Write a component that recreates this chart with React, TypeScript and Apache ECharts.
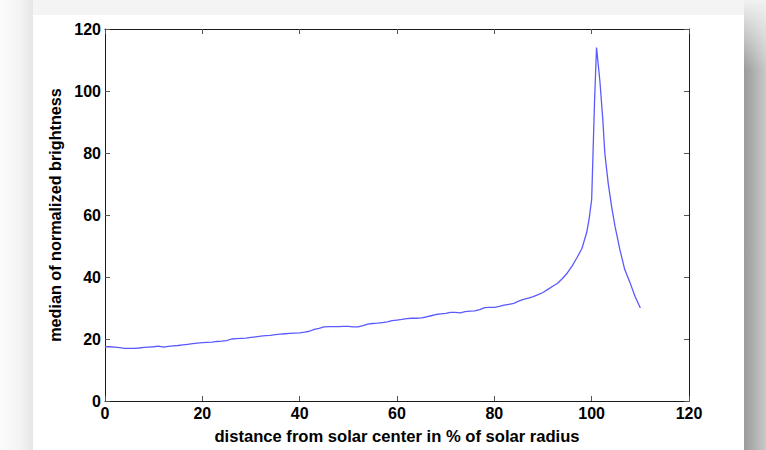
import React, { useEffect, useRef } from "react";
import * as echarts from "echarts";

const xValues: number[] = [
  0, 1, 2, 3, 4, 5, 6, 7, 8, 9, 10, 11, 12, 13, 14, 15, 16, 17, 18, 19,
  20, 21, 22, 23, 24, 25, 26, 27, 28, 29, 30, 31, 32, 33, 34, 35, 36, 37, 38, 39,
  40, 41, 42, 43, 44, 45, 46, 47, 48, 49, 50, 51, 52, 53, 54, 55, 56, 57, 58, 59,
  60, 61, 62, 63, 64, 65, 66, 67, 68, 69, 70, 71, 72, 73, 74, 75, 76, 77, 78, 79,
  80, 81, 82, 83, 84, 85, 86, 87, 88, 89, 90, 91, 92, 93, 94, 95, 96, 97, 98, 99,
  99.5, 100, 100.3, 100.6, 101, 101.7, 102.3, 102.7, 103.4, 104.1, 104.8, 105.8,
  106.8, 107.9, 108.9, 110,
];

const brightness: number[] = [
  17.5, 17.5, 17.4, 17.2, 17.0, 17.0, 17.0, 17.1, 17.3, 17.4, 17.5, 17.7, 17.4, 17.6, 17.8, 17.9, 18.1, 18.3, 18.5, 18.7,
  18.8, 18.9, 19.0, 19.2, 19.3, 19.5, 20.0, 20.1, 20.2, 20.3, 20.5, 20.7, 20.9, 21.1, 21.2, 21.4, 21.6, 21.7, 21.8, 21.9,
  22.0, 22.2, 22.5, 23.1, 23.4, 23.9, 24.0, 24.0, 24.0, 24.1, 24.1, 23.9, 23.9, 24.3, 24.8, 25.0, 25.1, 25.3, 25.5, 25.9,
  26.1, 26.3, 26.6, 26.7, 26.7, 26.8, 27.1, 27.5, 27.9, 28.1, 28.3, 28.6, 28.6, 28.4, 28.8, 29.0, 29.1, 29.5, 30.1, 30.2,
  30.2, 30.5, 30.9, 31.2, 31.5, 32.2, 32.8, 33.2, 33.7, 34.3, 35.0, 36.0, 37.0, 38.0, 39.5, 41.3, 43.6, 46.3, 49.2, 54.5,
  59.0, 65.0, 81.0, 97.0, 114.0, 103.0, 90.5, 80.0, 70.2, 62.7, 56.3, 48.8,
  42.4, 38.1, 33.8, 30.0,
];

const xTicks: number[] = [0, 20, 40, 60, 80, 100, 120];
const yTicks: number[] = [0, 20, 40, 60, 80, 100, 120];

const xTitle = "distance from solar center in % of solar radius";
const yTitle = "median of normalized brightness";

export default function App() {
  const ref = useRef<HTMLDivElement>(null);

  useEffect(() => {
    if (!ref.current) return;
    const chart = echarts.init(ref.current, null, { renderer: "svg" });
    const font = "'Liberation Sans', Arial, sans-serif";
    const axisLine = { show: true, onZero: false, lineStyle: { color: "#1a1a1a", width: 1 } };
    const tick = { show: true, inside: true, length: 5, lineStyle: { color: "#555", width: 1 } };
    const label = { fontFamily: font, fontSize: 16, fontWeight: "bold" as const, color: "#000" };
    const data = xValues.map((x, i) => [x, brightness[i]]);

    chart.setOption({
      animation: false,
      backgroundColor: "#f4f4f4",
      graphic: [
        {
          type: "rect",
          shape: { x: 0, y: 0, width: 33, height: 450 },
          style: {
            fill: new echarts.graphic.LinearGradient(0, 0, 1, 0, [
              { offset: 0, color: "#fbfbfb" },
              { offset: 0.6, color: "#f4f4f4" },
              { offset: 1, color: "#e6e6e6" },
            ]),
          },
          z: -10,
        },
        {
          type: "rect",
          shape: { x: 744, y: 0, width: 22, height: 450 },
          style: {
            fill: new echarts.graphic.LinearGradient(0, 0, 1, 0, [
              { offset: 0, color: "#9a9a9a" },
              { offset: 1, color: "#c9c9c9" },
            ]),
          },
          z: -10,
        },
        {
          type: "rect",
          shape: { x: 744, y: 0, width: 22, height: 70 },
          style: {
            fill: new echarts.graphic.LinearGradient(0, 0, 0, 1, [
              { offset: 0, color: "#f2f2f2" },
              { offset: 1, color: "rgba(242,242,242,0)" },
            ]),
          },
          z: -9,
        },
        {
          type: "rect",
          shape: { x: 33, y: 15, width: 711, height: 435 },
          style: { fill: "#ffffff" },
          z: -8,
        },
      ],
      grid: { left: 105, right: 77, top: 29, bottom: 48, containLabel: false },
      xAxis: [
        {
          type: "value",
          min: 0,
          max: 120,
          interval: 20,
          position: "bottom",
          axisLine,
          axisTick: tick,
          splitLine: { show: false },
          axisLabel: { ...label, margin: 4, formatter: (v: number) => (xTicks.includes(v) ? String(v) : "") },
          name: xTitle,
          nameLocation: "middle",
          nameGap: 27,
          nameTextStyle: { ...label, fontSize: 16.6 },
        },
        {
          type: "value",
          min: 0,
          max: 120,
          interval: 20,
          position: "top",
          axisLine,
          axisTick: tick,
          splitLine: { show: false },
          axisLabel: { show: false },
        },
      ],
      yAxis: [
        {
          type: "value",
          min: 0,
          max: 120,
          interval: 20,
          position: "left",
          axisLine,
          axisTick: tick,
          splitLine: { show: false },
          axisLabel: { ...label, margin: 4, formatter: (v: number) => (yTicks.includes(v) ? String(v) : "") },
          name: yTitle,
          nameLocation: "middle",
          nameGap: 42,
          nameTextStyle: { ...label, fontSize: 16.2 },
        },
        {
          type: "value",
          min: 0,
          max: 120,
          interval: 20,
          position: "right",
          axisLine,
          axisTick: tick,
          splitLine: { show: false },
          axisLabel: { show: false },
        },
      ],
      series: [
        {
          type: "line",
          data,
          showSymbol: false,
          symbol: "none",
          lineStyle: { color: "#5a5aff", width: 1.3 },
          xAxisIndex: 0,
          yAxisIndex: 0,
        },
      ],
    });
    return () => chart.dispose();
  }, []);

  return <div ref={ref} style={{ width: 766, height: 450, position: "absolute", left: 0, top: 0 }} />;
}
